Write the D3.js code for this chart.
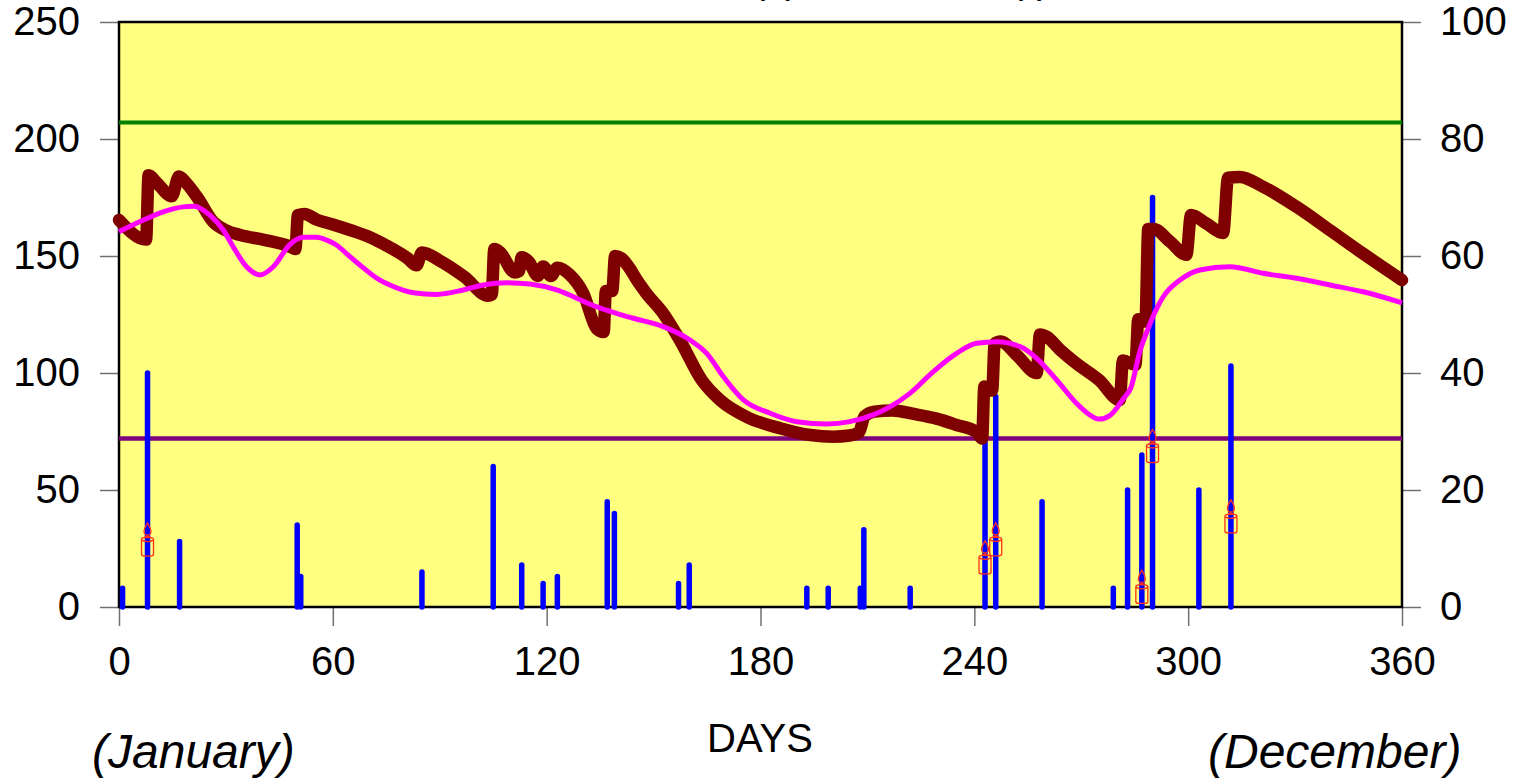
<!DOCTYPE html>
<html>
<head>
<meta charset="utf-8">
<script src="https://cdn.jsdelivr.net/npm/d3@7"></script>
<style>
  body { margin: 0; background: #fff; }
  svg { display: block; }
</style>
</head>
<body>
<svg id="chart" width="1515" height="784"></svg>
<script>
// rain events (day of year, amount on left axis)
var rainDays = [1, 8, 17, 50, 51, 85, 105, 113, 119, 123, 137, 139, 157, 160, 193,
  199, 208, 209, 222, 243, 246, 259, 279, 283, 287, 290, 303, 312];
var rainVals = [8, 100, 28, 35, 13, 15, 60, 18, 10, 13, 45, 40, 10, 18, 8,
  8, 8, 33, 8, 72, 90, 45, 8, 50, 65, 175, 50, 103];

// candle markers
var candleDays = [8, 243, 246, 287, 290, 312];
var candleVals = [28.8, 21.2, 28.9, 8.6, 68.8, 38.7];

// thick brown series [day, value]
var soilWater = [[0, 165.4], [7.6, 157], [8.3, 184.5], [10.5, 181.5], [14.8, 175.5],
  [16.8, 184], [19, 181], [22, 175], [26.5, 164.5], [30, 161], [34, 159], [41, 156.8],
  [48, 154], [49.5, 153], [50.2, 167.5], [52, 168], [55.5, 165.5], [60, 163.5],
  [65, 161], [70.4, 158], [75, 154.5], [81, 149], [83.5, 146], [85, 151.5], [90, 148],
  [97, 141], [103.5, 133], [104.6, 133.5], [105.3, 153], [107, 151.5], [111, 143],
  [112.2, 143.5], [113, 149.5], [115, 147.5], [117.5, 141.5], [119, 145.5],
  [121.2, 141.5], [123, 145], [126.5, 142], [130.3, 134], [134, 119], [136, 117.5],
  [136.6, 135], [138.4, 135], [139.2, 150], [141, 149], [143.4, 144.5], [145.2, 140],
  [148, 134], [152.7, 125.5], [157.4, 114], [163.5, 97], [168.6, 88.5], [176, 81.3],
  [185.5, 76.4], [194, 73.5], [200.4, 72.8], [205, 73.3], [207.6, 74.5], [209.2, 81.5],
  [212, 83.5], [217, 84], [223, 82.5], [229.4, 80.5], [235, 77.8], [240.6, 74.8],
  [242.2, 72], [242.8, 94.2], [245, 92.5], [245.7, 112.5], [247.3, 113.5], [252, 107.5],
  [257.5, 100], [258.4, 116.5], [260.3, 115.5], [264, 110], [268.7, 104], [275, 97],
  [280.8, 88.5], [281.7, 105.3], [285.2, 103.5], [286, 123], [288, 122], [288.8, 161.5],
  [290.3, 161.5], [295, 156], [299.5, 150.5], [300.8, 167.5], [305, 164], [309.8, 159.8],
  [311.2, 183.5], [314.5, 183.8], [321, 179.6], [330.4, 171], [339.8, 161], [349.1, 151],
  [360, 139.7]];

// smooth magenta series [day, value]
var smoothed = [[0, 160.4], [7, 165.5], [13, 169.2], [18, 171], [21, 171.3], [25.5, 167.5],
  [29.3, 161], [32, 154], [35.8, 145.4], [39.6, 141.9], [43.3, 145.4], [48, 155],
  [51.7, 158], [55.5, 158], [58.3, 156.8], [61, 154.7], [64.8, 149.7], [67, 146.9],
  [73.2, 139.7], [76, 137.6], [82.6, 134.3], [89.1, 133.6], [96.6, 135.5], [102.2, 137.6],
  [108.8, 138.6], [115.3, 138], [122.8, 135.5], [127.5, 132.6], [134, 128.3],
  [139.6, 125.5], [144, 123.5], [152.7, 119.8], [160.2, 114.1], [164.9, 108.4],
  [169.6, 98.4], [175.2, 88.5], [182.7, 82.8], [190.2, 79.2], [198.6, 78.2], [205.1, 79.2],
  [211.6, 82.1], [216.3, 85.5], [221.9, 91.3], [228.5, 100.6], [235, 108.4], [240.6, 112.7],
  [246.3, 113.4], [252.8, 111.3], [257.5, 106.3], [263.1, 97], [268.7, 87], [272, 82.5],
  [275, 80.3], [278, 81.8], [281.8, 89], [284, 94], [286.4, 109], [288.5, 118], [291, 127],
  [293, 132.6], [297.7, 139.7], [303.3, 144], [311.7, 145.4], [321, 142.6], [330.4, 140.5],
  [339.8, 137.6], [349.1, 134.7], [360, 130]];

// horizontal reference levels
var upperLevel = 207;
var lowerLevel = 72;

var xTicks = [0, 60, 120, 180, 240, 300, 360];
var leftTicks = [0, 50, 100, 150, 200, 250];
var rightTicks = [0, 20, 40, 60, 80, 100];

var font = "'Liberation Sans', Arial, sans-serif";
var svg = d3.select("#chart");

var x = d3.scaleLinear().domain([0, 360]).range([119, 1402]);
var y = d3.scaleLinear().domain([0, 250]).range([607, 22]);
var yRight = d3.scaleLinear().domain([0, 100]).range([607, 22]);

// title remnants cut by the top edge
svg.append("text").attr("x", 752).attr("y", -7)
  .attr("font-family", font).attr("font-size", 40).text("(x)");
svg.append("text").attr("x", 1010).attr("y", -7)
  .attr("font-family", font).attr("font-size", 40).text("(r)");

// plot background
svg.append("rect")
  .attr("x", x(0)).attr("y", y(250))
  .attr("width", x(360) - x(0)).attr("height", y(0) - y(250))
  .attr("fill", "#ffff80");

// axes
function styleAxis(g) {
  g.select(".domain").remove();
  g.selectAll("line").attr("stroke", "#707070").attr("stroke-width", 1.5);
  g.selectAll("text").attr("fill", "#000");
  g.attr("font-family", font).attr("font-size", 40);
}

svg.append("g")
  .attr("transform", "translate(" + x(0) + ",0)")
  .call(d3.axisLeft(y).tickValues(leftTicks).tickSize(19).tickPadding(20))
  .call(styleAxis);

svg.append("g")
  .attr("transform", "translate(" + x(360) + ",0)")
  .call(d3.axisRight(yRight).tickValues(rightTicks).tickSize(19).tickPadding(19))
  .call(styleAxis);

svg.append("g")
  .attr("transform", "translate(0," + y(0) + ")")
  .call(d3.axisBottom(x).tickValues(xTicks).tickSize(19).tickPadding(21))
  .call(styleAxis);

// plot border
svg.append("rect")
  .attr("x", x(0)).attr("y", y(250))
  .attr("width", x(360) - x(0)).attr("height", y(0) - y(250))
  .attr("fill", "none").attr("stroke", "#000").attr("stroke-width", 2.5);

// reference lines
svg.append("line")
  .attr("x1", x(0)).attr("x2", x(360))
  .attr("y1", y(upperLevel)).attr("y2", y(upperLevel))
  .attr("stroke", "#008000").attr("stroke-width", 4);
svg.append("line")
  .attr("x1", x(0)).attr("x2", x(360))
  .attr("y1", y(lowerLevel)).attr("y2", y(lowerLevel))
  .attr("stroke", "#800080").attr("stroke-width", 4.5);

// rain bars
svg.append("g").selectAll("line")
  .data(rainDays)
  .join("line")
  .attr("x1", d => x(d)).attr("x2", d => x(d))
  .attr("y1", y(0))
  .attr("y2", (d, i) => y(rainVals[i]))
  .attr("stroke", "#0000ff").attr("stroke-width", 5.5)
  .attr("stroke-linecap", "round");

// thick series
var line = d3.line()
  .x(d => x(d[0]))
  .y(d => y(d[1]))
  .curve(d3.curveMonotoneX);

svg.append("path")
  .attr("d", line(soilWater))
  .attr("fill", "none").attr("stroke", "#7f0000").attr("stroke-width", 12.5)
  .attr("stroke-linecap", "round").attr("stroke-linejoin", "round");

svg.append("path")
  .attr("d", line(smoothed))
  .attr("fill", "none").attr("stroke", "#ff00ff").attr("stroke-width", 5)
  .attr("stroke-linejoin", "round");

// candle markers
var candle = svg.append("g").selectAll("g")
  .data(candleDays)
  .join("g")
  .attr("transform", (d, i) => "translate(" + x(d) + "," + y(candleVals[i]) + ")")
  .attr("fill", "none").attr("stroke", "#ff3019").attr("stroke-width", 1.3);

candle.append("path")
  .attr("d", "M0,-16.5 C1.5,-14 3.5,-11.5 3.5,-8 A3.5,3.5 0 0 1 -3.5,-8 C-3.5,-11.5 -1.5,-14 0,-16.5 Z");
candle.append("path").attr("d", "M0,-4.5 L0,-2 M-3,-3 L3,-3");
candle.append("rect")
  .attr("x", -6).attr("y", -2).attr("width", 12).attr("height", 18.5)
  .attr("rx", 3).attr("ry", 2);
candle.append("path").attr("d", "M-6,0.5 Q0,3.5 6,0.5");

// axis titles
svg.append("text")
  .attr("x", 760).attr("y", 752).attr("text-anchor", "middle")
  .attr("font-family", font).attr("font-size", 40).text("DAYS");
svg.append("text")
  .attr("x", 92).attr("y", 768)
  .attr("font-family", font).attr("font-size", 48).attr("font-style", "italic")
  .text("(January)");
svg.append("text")
  .attr("x", 1208).attr("y", 768)
  .attr("font-family", font).attr("font-size", 48).attr("font-style", "italic")
  .text("(December)");
</script>
</body>
</html>
